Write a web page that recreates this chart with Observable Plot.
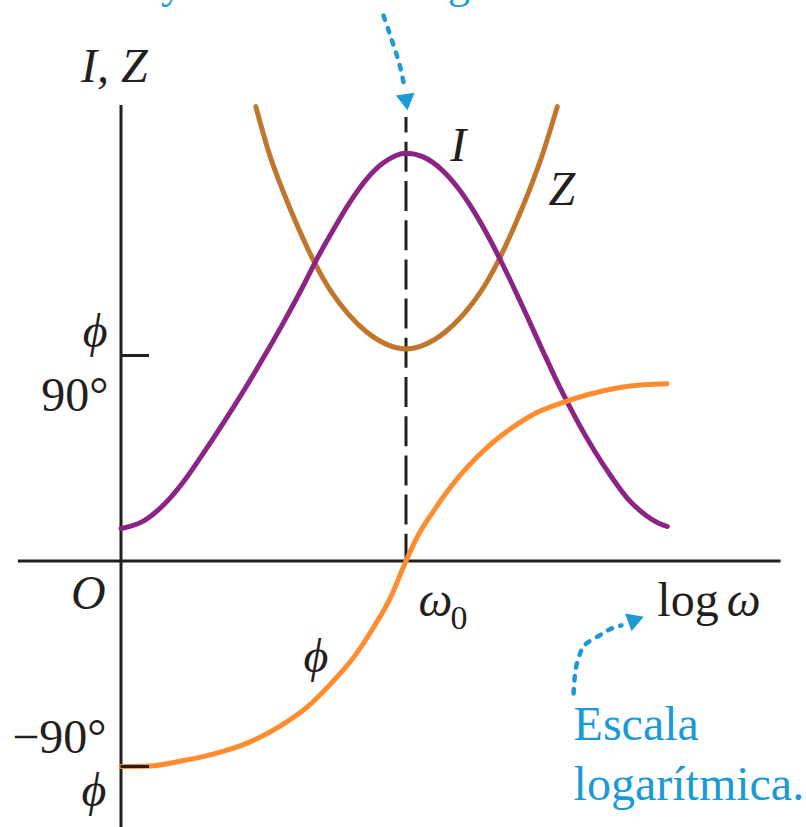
<!DOCTYPE html>
<html>
<head>
<meta charset="utf-8">
<script src="https://cdn.jsdelivr.net/npm/d3@7"></script>
<script src="https://cdn.jsdelivr.net/npm/@observablehq/plot@0.6"></script>
<style>
  html, body { margin: 0; padding: 0; background: #fff; }
  #chart svg { display: block; }
</style>
</head>
<body>
<div id="chart"></div>
<script>
// Resonance of a series L-R-C circuit versus log ω (ω0 at 0).
// Current amplitude I (arbitrary units on the shared vertical scale)
const iLogW = [-1.0, -0.92, -0.85, -0.78, -0.709, -0.639, -0.569, -0.499, -0.429, -0.358, -0.312, -0.253, -0.195, -0.136, -0.078, 0, 0.06, 0.12, 0.18, 0.24, 0.30, 0.36, 0.42, 0.48, 0.54, 0.60, 0.66, 0.72, 0.78, 0.84, 0.88, 0.917];
const iVals = [14.2, 17.6, 24.6, 34.8, 47.6, 60.8, 74.7, 89.3, 104.6, 121.1, 132.4, 145.5, 157.5, 167.6, 174.5, 178.6, 177.0, 172.0, 163.8, 152.8, 139.5, 124.5, 108.5, 92.0, 76.0, 61.5, 48.5, 37.0, 27.0, 20.2, 17.0, 15.1];

// Impedance Z (same arbitrary units)
const zLogW = [-0.527, -0.48, -0.43, -0.38, -0.32, -0.26, -0.20, -0.14, -0.07, 0, 0.07, 0.14, 0.20, 0.26, 0.32, 0.38, 0.43, 0.48, 0.531];
const zVals = [199.0, 178.5, 161.5, 146.5, 130.5, 117.5, 107.8, 100.5, 95.0, 92.9, 95.0, 100.5, 107.8, 117.5, 130.5, 146.5, 161.5, 178.5, 199.0];

// Phase angle φ in degrees
const phiLogW = [-1.0, -0.9, -0.78, -0.66, -0.546, -0.429, -0.347, -0.253, -0.183, -0.113, -0.054, 0, 0.039, 0.098, 0.156, 0.215, 0.285, 0.367, 0.448, 0.542, 0.636, 0.741, 0.834, 0.916];
const phiDeg = [-90.0, -89.8, -87.4, -84.0, -79.2, -71.3, -64.0, -52.3, -42.1, -28.9, -15.9, 0, 10.4, 22.1, 32.3, 41.1, 49.8, 57.9, 64.3, 69.0, 72.8, 75.8, 77.2, 77.6];

// Phase tick values
const phiTicks = [90, -90];

const ink = "#231f20";
const purple = "#8b2484";
const brown = "#c0772c";
const orange = "#ff8c2e";
const blue = "#1b9ad6";
const serif = "Liberation Serif, Times New Roman, serif";

const toRows = (xs, ys) => xs.map((x, k) => ({x, y: ys[k]}));
const curI = toRows(iLogW, iVals);
const curZ = toRows(zLogW, zVals);
const curPhi = toRows(phiLogW, phiDeg);

// dotted pointer paths (annotation geometry in chart units)
const pointerTop = [{x: -0.079, y: 238.9}, {x: -0.047, y: 227.1}, {x: -0.021, y: 216.6}, {x: -0.005, y: 206.9}];
const pointerLog = [{x: 0.588, y: -58.0}, {x: 0.591, y: -52.3}, {x: 0.598, y: -45.8}, {x: 0.612, y: -40.1}, {x: 0.633, y: -36.1}, {x: 0.679, y: -32.6}, {x: 0.714, y: -30.0}, {x: 0.756, y: -28.2}];

const txt = (rows, opts) => Plot.text(rows, {x: "x", y: "y", text: "t", fontFamily: serif, fontSize: 48, lineAnchor: "bottom", textAnchor: "start", fill: ink, ...opts});

const chart = Plot.plot({
  width: 806,
  height: 827,
  margin: 0,
  style: {background: "#fff", fontFamily: serif},
  x: {domain: [-1, 1], range: [120.5, 690.5], axis: null},
  y: {domain: [-90, 90], range: [766, 355], axis: null},
  marks: [
    // axes
    Plot.ruleY([0], {x1: -1.36, x2: 1.316, stroke: ink, strokeWidth: 3}),
    Plot.ruleX([-1], {y1: 199.5, y2: -125, stroke: ink, strokeWidth: 3}),
    // resonance marker at ω0
    Plot.ruleX([0], {y1: 194.2, y2: 0, stroke: ink, strokeWidth: 3, strokeDasharray: "30,9.2", strokeDashoffset: 14.5}),
    // curves
    Plot.line(curZ, {x: "x", y: "y", curve: "monotone-x", stroke: brown, strokeWidth: 5}),
    Plot.line(curI, {x: "x", y: "y", curve: "monotone-x", stroke: purple, strokeWidth: 5}),
    Plot.line(curPhi, {x: "x", y: "y", curve: "monotone-x", stroke: orange, strokeWidth: 5}),
    // ±90° ticks
    Plot.ruleY(phiTicks, {x1: -1, x2: -0.9, stroke: ink, strokeWidth: 3}),
    // blue pointers
    Plot.line(pointerTop, {x: "x", y: "y", curve: "natural", stroke: blue, strokeWidth: 4.5, strokeDasharray: "4.5,8.5"}),
    Plot.dot([{x: 0, y: 202.1}], {x: "x", y: "y", symbol: "triangle", r: 7, fill: blue, stroke: "none", rotate: 172}),
    Plot.line(pointerLog, {x: "x", y: "y", curve: "natural", stroke: blue, strokeWidth: 4.5, strokeDasharray: "4.5,8.5"}),
    Plot.dot([{x: 0.798, y: -26.1}], {x: "x", y: "y", symbol: "triangle", r: 7, fill: blue, stroke: "none", rotate: 70}),
    // labels
    txt([{x: -1.14, y: 210.0, t: "I, Z"}], {fontStyle: "italic"}),
    txt([{x: 0.155, y: 175.0, t: "I"}], {fontStyle: "italic"}),
    txt([{x: 0.5, y: 155.7, t: "Z"}], {fontStyle: "italic"}),
    txt([{x: -1.047, y: 93.9, t: "ϕ"}, {x: -1.051, y: -107.1, t: "ϕ"}], {textAnchor: "end", fontStyle: "italic"}),
    txt([{x: -1.044, y: 65.9, t: "90°"}, {x: -1.051, y: -83.9, t: "−90°"}], {textAnchor: "end"}),
    txt([{x: -1.054, y: -21.2, t: "O"}], {textAnchor: "end", fontStyle: "italic"}),
    txt([{x: -0.36, y: -48.8, t: "ϕ"}], {fontStyle: "italic"}),
    txt([{x: 0.044, y: -24.3, t: "ω"}], {fontStyle: "italic"}),
    txt([{x: 0.156, y: -29.6, t: "0"}], {fontSize: 34}),
    txt([{x: 0.882, y: -24.3, t: "log"}]),
    txt([{x: 1.125, y: -24.3, t: "ω"}], {fontStyle: "italic"}),
    txt([{x: 0.588, y: -78.2, t: "Escala"}, {x: 0.588, y: -104.5, t: "logarítmica."}], {fill: blue}),
    txt([{x: -1.37, y: 246.6, t: "mínima y la corriente llega a su máximo"}], {fill: blue, fontSize: 44})
  ]
});

document.getElementById("chart").appendChild(chart);
</script>
</body>
</html>
